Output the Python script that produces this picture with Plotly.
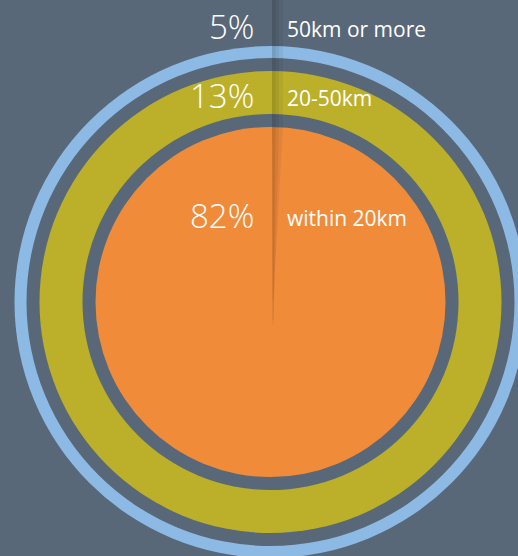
import plotly.graph_objects as go

# data
categories = ["within 20km", "20-50km", "50km or more"]
shares = [82, 13, 5]

# style
BG = "#596878"
COLORS = ["#f08b3a", "#bcb02a", "#8dbae4"]
W, H = 518, 556
CX, CY = 270.5, 302
# (outer radius, inner radius) per ring, inner to outer
RINGS = [(175, 0), (231, 188), (256, 244)]
TEXT_Y = [215, 95, 26]

fig = go.Figure()
shapes = []
for (ro, ri), col in zip(reversed(RINGS), reversed(COLORS)):
    shapes.append(dict(type="circle", xref="x", yref="y", x0=CX - ro, x1=CX + ro,
                       y0=CY - ro, y1=CY + ro, fillcolor=col, line=dict(width=0), layer="below"))
    if ri > 0:
        shapes.append(dict(type="circle", xref="x", yref="y", x0=CX - ri, x1=CX + ri,
                           y0=CY - ri, y1=CY + ri, fillcolor=BG, line=dict(width=0), layer="below"))

# shadow strip (above the orange disc top)
top_orange = CY - RINGS[0][0]
for x0, x1, op in [(272, 283, 0.05), (272, 279, 0.05), (272, 275.5, 0.06)]:
    shapes.append(dict(type="rect", xref="x", yref="y", x0=x0, x1=x1, y0=0, y1=top_orange,
                       fillcolor="black", opacity=op, line=dict(width=0), layer="below"))
# tapered shadow on the orange disc
for xr, op, yb in [(283, 0.05, 300), (279, 0.06, 320), (275.5, 0.07, 325)]:
    shapes.append(dict(type="path", xref="x", yref="y",
                       path=f"M 272 {top_orange} L {xr} {top_orange} L 273.5 {yb} L 272.5 {yb} Z",
                       fillcolor="black", opacity=op, line=dict(width=0), layer="below"))

fig.add_trace(go.Scatter(x=[0, W], y=[0, H], mode="markers", marker=dict(opacity=0),
                         hoverinfo="skip", showlegend=False))

annotations = []
for cat, val, ty in zip(categories, shares, TEXT_Y):
    annotations.append(dict(x=256, y=ty, xref="x", yref="y", text=f"{val}%", showarrow=False,
                            xanchor="right", yanchor="middle",
                            font=dict(family="Open Sans", size=33, color="white", weight=300)))
    annotations.append(dict(x=285, y=ty + 3, xref="x", yref="y", text=cat, showarrow=False,
                            xanchor="left", yanchor="middle",
                            font=dict(family="Open Sans", size=21, color="white", weight=400)))

fig.update_layout(
    width=W, height=H, margin=dict(l=0, r=0, t=0, b=0),
    paper_bgcolor=BG, plot_bgcolor=BG,
    xaxis=dict(range=[0, W], visible=False, fixedrange=True),
    yaxis=dict(range=[H, 0], visible=False, fixedrange=True),
    shapes=shapes, annotations=annotations, showlegend=False,
)
fig.write_html("out.html", config={"displayModeBar": False, "staticPlot": True},
               post_script="document.body.style.margin='0';document.body.style.overflow='hidden';")
